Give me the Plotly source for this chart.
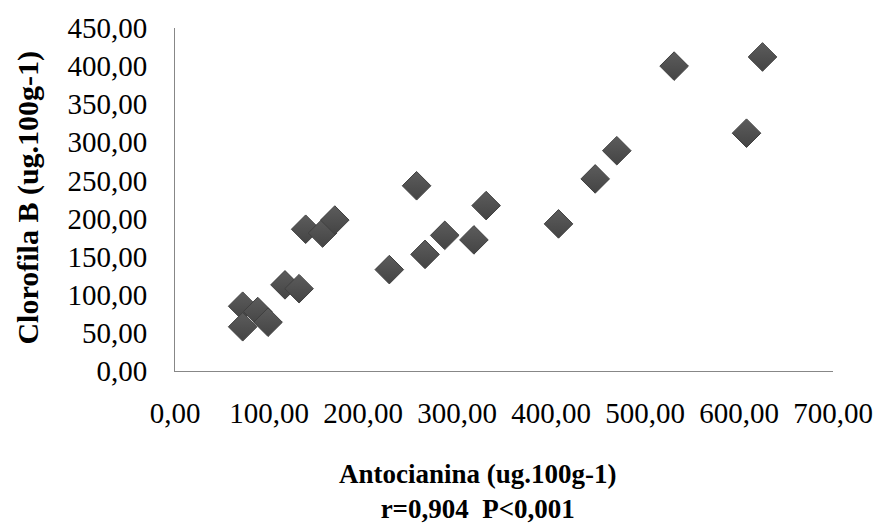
import plotly.graph_objects as go

# Anthocyanin vs chlorophyll B measurements (ug.100g-1)
antocianina = [72, 72, 88, 99, 117, 132, 139, 157, 170, 228, 257, 266, 287, 318, 331,
               408, 447, 470, 531, 608, 625]
clorofila_b = [85, 58, 78, 64, 113, 108, 186, 181, 198, 133, 243, 153, 178, 172, 217,
               193, 252, 289, 400, 312, 412]

x_title = "<b>Antocianina (ug.100g-1)</b><br><b>r=0,904\u00a0\u00a0P&lt;0,001</b>"
y_title = "<b>Clorofila B (ug.100g-1)</b>"

serif = "Liberation Serif, Times New Roman, serif"

fig = go.Figure()
fig.add_trace(go.Scatter(
    x=antocianina,
    y=clorofila_b,
    mode="markers",
    marker=dict(
        symbol="diamond",
        size=22,
        color="#5c5c5c",
        gradient=dict(type="vertical", color="#444444"),
        line=dict(color="#404040", width=1),
    ),
    showlegend=False,
    hoverinfo="x+y",
))

axis_common = dict(
    showgrid=False,
    zeroline=False,
    showline=True,
    linecolor="#878787",
    linewidth=1,
    ticks="",
    tickformat=".2f",
    tickfont=dict(family=serif, size=29, color="#000000"),
)

fig.update_layout(
    width=885,
    height=523,
    margin=dict(l=175, r=47, t=27, b=152),
    paper_bgcolor="white",
    plot_bgcolor="white",
    separators=",.",
    xaxis=dict(range=[0, 700], dtick=100, tick0=0, ticklabelstandoff=16, **axis_common),
    yaxis=dict(range=[0, 450], dtick=50, tick0=0, ticklabelstandoff=21, **axis_common),
    annotations=[
        dict(
            text=x_title,
            xref="paper", yref="paper",
            x=(480 - 175) / 663, y=-0.35,
            xanchor="center", yanchor="middle",
            showarrow=False,
            font=dict(family=serif, size=27, color="#000000"),
        ),
        dict(
            text=y_title,
            xref="paper", yref="paper",
            x=(27 - 175) / 663, y=0.506,
            xanchor="center", yanchor="middle",
            textangle=-90,
            showarrow=False,
            font=dict(family=serif, size=30, color="#000000"),
        ),
    ],
)

fig.write_html("out.html")
